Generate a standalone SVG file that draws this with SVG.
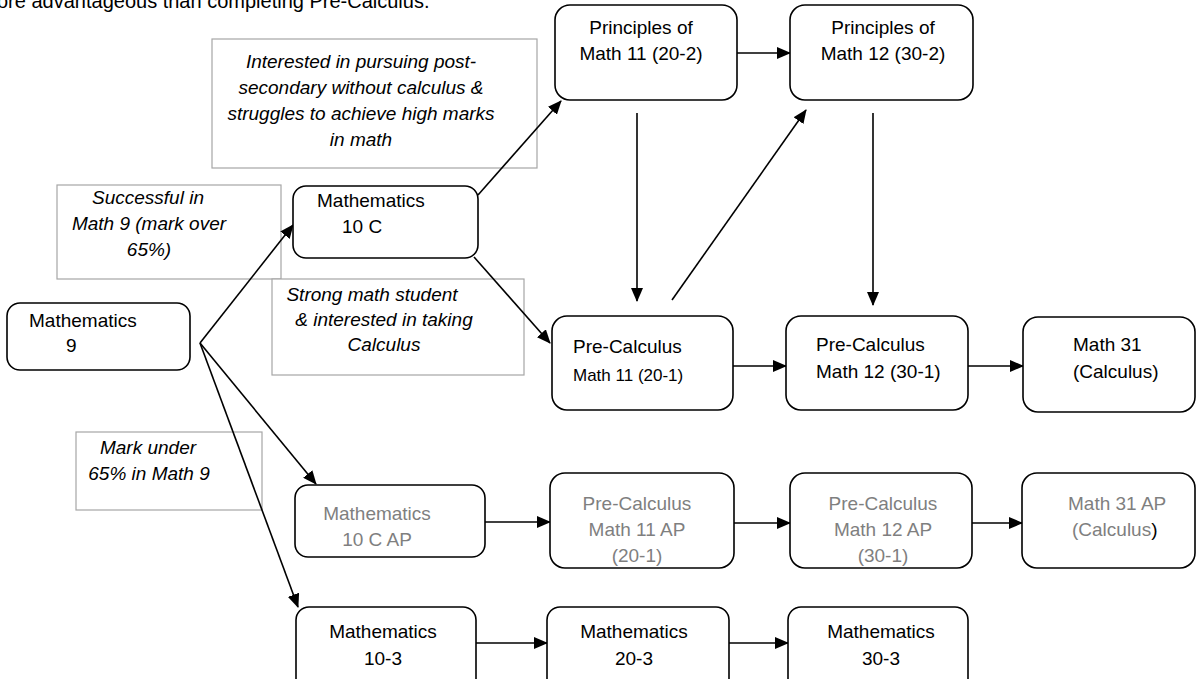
<svg xmlns="http://www.w3.org/2000/svg" width="1197" height="679" viewBox="0 0 1197 679">
<style>
text{font-family:"Liberation Sans",Arial,sans-serif;font-size:19px;fill:#000}
.lbl rect{fill:#fff;stroke:#a6a6a6;stroke-width:1.2}
.lbl text{font-style:italic;text-anchor:middle}
.node rect{fill:#fff;stroke:#000;stroke-width:1.6}
.gray text{fill:#7f7f7f}
.c{text-anchor:middle}
.sm{font-size:17px}
.top{font-size:20px}
#connectors line{stroke:#000;stroke-width:1.6;marker-end:url(#ah)}
</style>
<defs>
<marker id="ah" markerUnits="userSpaceOnUse" markerWidth="14" markerHeight="12" refX="13" refY="6" orient="auto">
<path d="M0,0 L14,6 L0,12 Z" fill="#000"/>
</marker>
</defs>
<text class="top" x="-3" y="8">ore advantageous than completing Pre-Calculus.</text>

<g id="label-interested" class="lbl">
<rect x="212" y="39" width="325" height="129"/>
<text x="361" y="68">Interested in pursuing post-</text>
<text x="361" y="94">secondary without calculus &amp;</text>
<text x="361" y="120">struggles to achieve high marks</text>
<text x="361" y="146">in math</text>
</g>
<g id="label-successful" class="lbl">
<rect x="57" y="185" width="224" height="94"/>
<text x="148" y="204">Successful in</text>
<text x="149" y="230">Math 9 (mark over</text>
<text x="149" y="256">65%)</text>
</g>
<g id="label-strong" class="lbl">
<rect x="272" y="279" width="252" height="96"/>
<text x="372" y="301">Strong math student</text>
<text x="384" y="326">&amp; interested in taking</text>
<text x="384" y="351">Calculus</text>
</g>
<g id="label-mark" class="lbl">
<rect x="76" y="432" width="186" height="78"/>
<text x="148" y="454">Mark under</text>
<text x="149" y="480">65% in Math 9</text>
</g>

<g id="connectors">
<line x1="200" y1="343" x2="293" y2="225"/>
<line x1="200" y1="343" x2="316" y2="484"/>
<line x1="200" y1="343" x2="298" y2="607"/>
<line x1="478" y1="195" x2="561" y2="101"/>
<line x1="474" y1="257" x2="550" y2="343"/>
<line x1="737" y1="53" x2="790" y2="53"/>
<line x1="637" y1="113" x2="637" y2="301"/>
<line x1="672" y1="300" x2="806" y2="110"/>
<line x1="873" y1="113" x2="873" y2="305"/>
<line x1="733" y1="366" x2="786" y2="366"/>
<line x1="968" y1="366" x2="1023" y2="366"/>
<line x1="485" y1="522" x2="550" y2="522"/>
<line x1="734" y1="523" x2="790" y2="523"/>
<line x1="972" y1="523" x2="1022" y2="523"/>
<line x1="476" y1="643" x2="547" y2="643"/>
<line x1="729" y1="643" x2="788" y2="643"/>
</g>

<g id="math9" class="node">
<rect x="7" y="303" width="183" height="67" rx="13"/>
<text x="29" y="327">Mathematics</text>
<text x="66" y="352">9</text>
</g>
<g id="math10c" class="node">
<rect x="293" y="186" width="185" height="72" rx="13"/>
<text x="317" y="207">Mathematics</text>
<text x="342" y="233">10 C</text>
</g>
<g id="principles11" class="node">
<rect x="555" y="5" width="182" height="95" rx="15"/>
<text class="c" x="641" y="34">Principles of</text>
<text class="c" x="641" y="60">Math 11 (20-2)</text>
</g>
<g id="principles12" class="node">
<rect x="790" y="5" width="183" height="95" rx="15"/>
<text class="c" x="883" y="34">Principles of</text>
<text class="c" x="883" y="60">Math 12 (30-2)</text>
</g>
<g id="precalc11" class="node">
<rect x="552" y="316" width="181" height="94" rx="15"/>
<text x="573" y="353">Pre-Calculus</text>
<text class="sm" x="573" y="381">Math 11 (20-1)</text>
</g>
<g id="precalc12" class="node">
<rect x="786" y="316" width="182" height="94" rx="15"/>
<text x="816" y="351">Pre-Calculus</text>
<text x="816" y="378">Math 12 (30-1)</text>
</g>
<g id="math31" class="node">
<rect x="1023" y="317" width="172" height="95" rx="15"/>
<text x="1073" y="351">Math 31</text>
<text x="1073" y="378">(Calculus)</text>
</g>
<g id="math10cap" class="node gray">
<rect x="295" y="485" width="190" height="72" rx="13"/>
<text class="c" x="377" y="520">Mathematics</text>
<text class="c" x="377" y="546">10 C AP</text>
</g>
<g id="precalc11ap" class="node gray">
<rect x="550" y="473" width="184" height="95" rx="15"/>
<text class="c" x="637" y="510">Pre-Calculus</text>
<text class="c" x="637" y="536">Math 11 AP</text>
<text class="c" x="637" y="562">(20-1)</text>
</g>
<g id="precalc12ap" class="node gray">
<rect x="790" y="473" width="182" height="95" rx="15"/>
<text class="c" x="883" y="510">Pre-Calculus</text>
<text class="c" x="883" y="536">Math 12 AP</text>
<text class="c" x="883" y="562">(30-1)</text>
</g>
<g id="math31ap" class="node gray">
<rect x="1022" y="473" width="173" height="95" rx="15"/>
<text x="1068" y="510">Math 31 AP</text>
<text x="1072" y="536">(Calculus<tspan fill="#000">)</tspan></text>
</g>
<g id="math10-3" class="node">
<rect x="296" y="607" width="180" height="85" rx="13"/>
<text class="c" x="383" y="638">Mathematics</text>
<text class="c" x="383" y="665">10-3</text>
</g>
<g id="math20-3" class="node">
<rect x="547" y="607" width="182" height="85" rx="13"/>
<text class="c" x="634" y="638">Mathematics</text>
<text class="c" x="634" y="665">20-3</text>
</g>
<g id="math30-3" class="node">
<rect x="788" y="607" width="180" height="85" rx="13"/>
<text class="c" x="881" y="638">Mathematics</text>
<text class="c" x="881" y="665">30-3</text>
</g>
</svg>
